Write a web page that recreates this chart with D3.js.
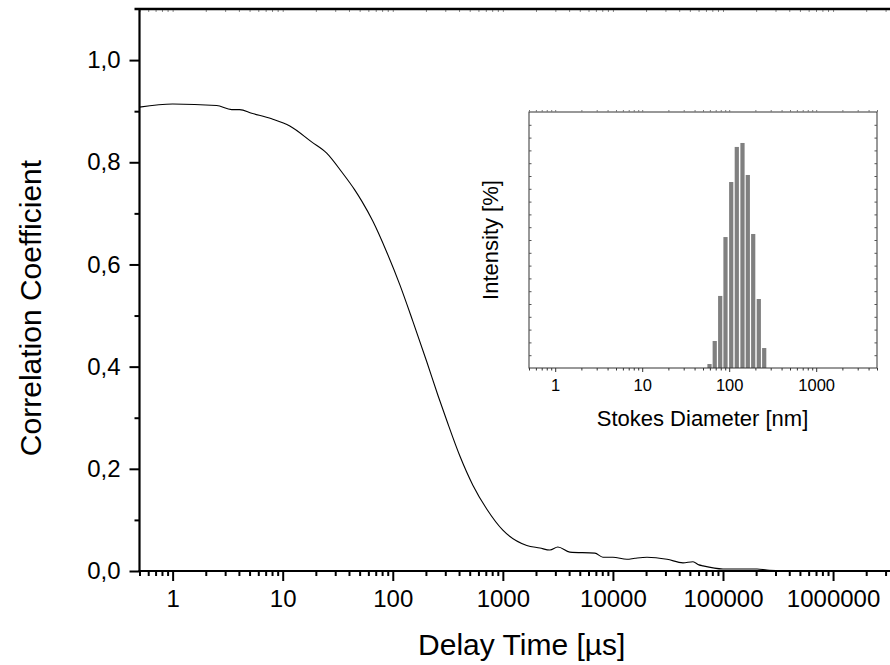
<!DOCTYPE html>
<html><head><meta charset="utf-8">
<script src="https://cdn.jsdelivr.net/npm/d3@7/dist/d3.min.js"></script>
<style>
html,body{margin:0;padding:0;background:#fff;}
svg{display:block;font-family:"Liberation Sans",Arial,sans-serif;}
</style></head>
<body>
<svg id="chart" width="890" height="665"></svg>
<script>
// ---- data ----
const delayTime = [0.5, 1, 2.51, 3.44, 4.06, 5.23, 7.94, 11.6, 18.3, 25.1, 34.4, 45.1, 52.3, 65.8, 88.2, 116, 152, 204, 257, 310, 407, 534, 716, 1000, 1650, 2170, 2680, 3160, 4060, 6860, 8110, 10000, 13400, 15850, 20400, 31000, 43300, 53400, 60500, 65800, 100000, 204000, 251000, 330000];
const correlation = [0.908, 0.914, 0.911, 0.903, 0.903, 0.896, 0.885, 0.871, 0.840, 0.818, 0.781, 0.746, 0.724, 0.685, 0.624, 0.560, 0.489, 0.409, 0.344, 0.294, 0.225, 0.168, 0.121, 0.080, 0.050, 0.045, 0.041, 0.047, 0.037, 0.035, 0.027, 0.027, 0.023, 0.025, 0.027, 0.023, 0.016, 0.018, 0.012, 0.010, 0.004, 0.004, 0.002, 0.001];

const diameter = [59.4, 68.2, 78.8, 90.7, 105.5, 122.3, 142.2, 163.7, 188.8, 219, 252.6];
const intensity = [0.31, 2.11, 5.63, 10.23, 14.53, 17.27, 17.58, 15.08, 10.47, 5.39, 1.56];

const xTickLabels = [1, 10, 100, 1000, 10000, 100000, 1000000];
const yTickLabels = [0, 0.2, 0.4, 0.6, 0.8, 1.0];
const insetXTickLabels = [1, 10, 100, 1000];

const xTitle = "Delay Time [µs]";
const yTitle = "Correlation Coefficient";
const insetXTitle = "Stokes Diameter [nm]";
const insetYTitle = "Intensity [%]";

// ---- layout ----
const svg = d3.select("#chart");
const M = {left: 139.5, right: 910, top: 9, bottom: 571};
const x = d3.scaleLog().domain([0.5, 5e6]).range([M.left, M.right]);
const y = d3.scaleLinear().domain([0, 1.1]).range([M.bottom, M.top]);

function minorLog(lo, hi) {
  const out = [];
  for (let e = Math.floor(Math.log10(lo)); e <= Math.ceil(Math.log10(hi)); e++) {
    for (let m = 1; m < 10; m++) {
      const v = m * Math.pow(10, e);
      if (v >= lo && v <= hi && m !== 1) out.push(v);
    }
  }
  return out;
}
const fmtComma = d => d3.format(".1f")(d).replace(".", ",");
const FONT = "Liberation Sans, Arial, sans-serif";

// main bottom axis
const gx = svg.append("g").attr("transform", `translate(0,${M.bottom})`);
gx.call(d3.axisBottom(x).tickValues(minorLog(0.5, 5e6)).tickSize(5).tickSizeOuter(0).tickFormat(""));
gx.append("g").call(d3.axisBottom(x).tickValues(xTickLabels).tickSize(10).tickSizeOuter(0).tickPadding(9).tickFormat(d3.format("d")));
gx.selectAll("path.domain").remove();
gx.selectAll("line").attr("stroke", "#000").attr("stroke-width", 2);
gx.selectAll("text").attr("font-size", 24).attr("fill", "#000").attr("font-family", FONT);

// main top axis (inward small ticks)
const gt = svg.append("g").attr("transform", `translate(0,${M.top})`);
gt.call(d3.axisBottom(x).tickValues(minorLog(0.5, 5e6).concat(xTickLabels)).tickSize(3).tickSizeOuter(0).tickFormat(""));
gt.selectAll("path.domain").remove();
gt.selectAll("line").attr("stroke", "#888").attr("stroke-width", 1);

// main left axis
const gy = svg.append("g").attr("transform", `translate(${M.left},0)`);
gy.call(d3.axisLeft(y).tickValues([0.1, 0.3, 0.5, 0.7, 0.9]).tickSize(5).tickSizeOuter(0).tickFormat(""));
gy.append("g").call(d3.axisLeft(y).tickValues(yTickLabels).tickSize(10).tickSizeOuter(0).tickPadding(9).tickFormat(fmtComma));
gy.selectAll("path.domain").remove();
gy.selectAll("line").attr("stroke", "#000").attr("stroke-width", 2);
gy.selectAll("text").attr("font-size", 24).attr("fill", "#000").attr("font-family", FONT);

// frame lines
svg.append("line").attr("x1", M.left).attr("x2", M.left).attr("y1", M.top - 1).attr("y2", M.bottom + 1).attr("stroke", "#000").attr("stroke-width", 2.2);
svg.append("line").attr("x1", M.left - 5).attr("x2", M.right).attr("y1", M.top).attr("y2", M.top).attr("stroke", "#000").attr("stroke-width", 2.6);
svg.append("line").attr("x1", M.left - 1).attr("x2", M.right).attr("y1", M.bottom).attr("y2", M.bottom).attr("stroke", "#000").attr("stroke-width", 2.2);

// curve
const line = d3.line().x((d, i) => x(delayTime[i])).y((d, i) => y(correlation[i])).curve(d3.curveMonotoneX);
svg.append("path").datum(correlation).attr("d", line).attr("fill", "none").attr("stroke", "#000").attr("stroke-width", 1.1);

// axis titles
svg.append("text").attr("x", (M.left + M.right) / 2 - 3).attr("y", 655).attr("text-anchor", "middle")
  .attr("font-size", 30).attr("font-family", FONT).text(xTitle);
svg.append("text").attr("transform", `translate(41,308) rotate(-90)`).attr("text-anchor", "middle")
  .attr("font-size", 30).attr("font-family", FONT).text(yTitle);

// ---- inset ----
const I = {left: 529, right: 877, top: 112, bottom: 368};
const xi = d3.scaleLog().domain([0.5, 5000]).range([I.left, I.right]);
const yi = d3.scaleLinear().domain([0, 20]).range([I.bottom, I.top]);

// bars
const ratio = diameter[1] / diameter[0];
svg.append("g").selectAll("rect").data(intensity).join("rect")
  .attr("x", (d, i) => xi(diameter[i] / Math.sqrt(ratio)) + 0.5)
  .attr("width", (d, i) => xi(diameter[i] * Math.sqrt(ratio)) - xi(diameter[i] / Math.sqrt(ratio)) - 1)
  .attr("y", d => yi(d))
  .attr("height", d => yi(0) - yi(d))
  .attr("fill", "#808080");

svg.append("rect").attr("x", I.left).attr("y", I.top).attr("width", I.right - I.left).attr("height", I.bottom - I.top)
  .attr("fill", "none").attr("stroke", "#333").attr("stroke-width", 1);

const ixb = svg.append("g").attr("transform", `translate(0,${I.bottom})`);
ixb.call(d3.axisBottom(xi).tickValues(minorLog(0.5, 5000)).tickSize(2.5).tickSizeOuter(0).tickFormat(""));
ixb.append("g").call(d3.axisBottom(xi).tickValues(insetXTickLabels).tickSize(4).tickSizeOuter(0).tickPadding(7).tickFormat(d3.format("d")));
ixb.selectAll("path.domain").remove();
ixb.selectAll("line").attr("stroke", "#333");
ixb.selectAll("text").attr("font-size", 16.5).attr("fill", "#000").attr("font-family", FONT);

const ixt = svg.append("g").attr("transform", `translate(0,${I.top})`);
ixt.call(d3.axisTop(xi).tickValues(minorLog(0.5, 5000).concat(insetXTickLabels)).tickSize(2).tickSizeOuter(0).tickFormat(""));
ixt.selectAll("path.domain").remove();
ixt.selectAll("line").attr("stroke", "#777");

const yiTicks = d3.range(1, 20);
const iyl = svg.append("g").attr("transform", `translate(${I.left},0)`);
iyl.call(d3.axisRight(yi).tickValues(yiTicks).tickSize(2.5).tickSizeOuter(0).tickFormat(""));
iyl.selectAll("path.domain").remove();
iyl.selectAll("line").attr("stroke", "#555");
const iyr = svg.append("g").attr("transform", `translate(${I.right},0)`);
iyr.call(d3.axisLeft(yi).tickValues(yiTicks).tickSize(2.5).tickSizeOuter(0).tickFormat(""));
iyr.selectAll("path.domain").remove();
iyr.selectAll("line").attr("stroke", "#555");

svg.append("text").attr("x", (I.left + I.right) / 2 - 0.5).attr("y", 426).attr("text-anchor", "middle")
  .attr("font-size", 22).attr("font-family", FONT).text(insetXTitle);
svg.append("text").attr("transform", `translate(498,${(I.top + I.bottom) / 2}) rotate(-90)`).attr("text-anchor", "middle")
  .attr("font-size", 22).attr("font-family", FONT).text(insetYTitle);
</script>
</body></html>
